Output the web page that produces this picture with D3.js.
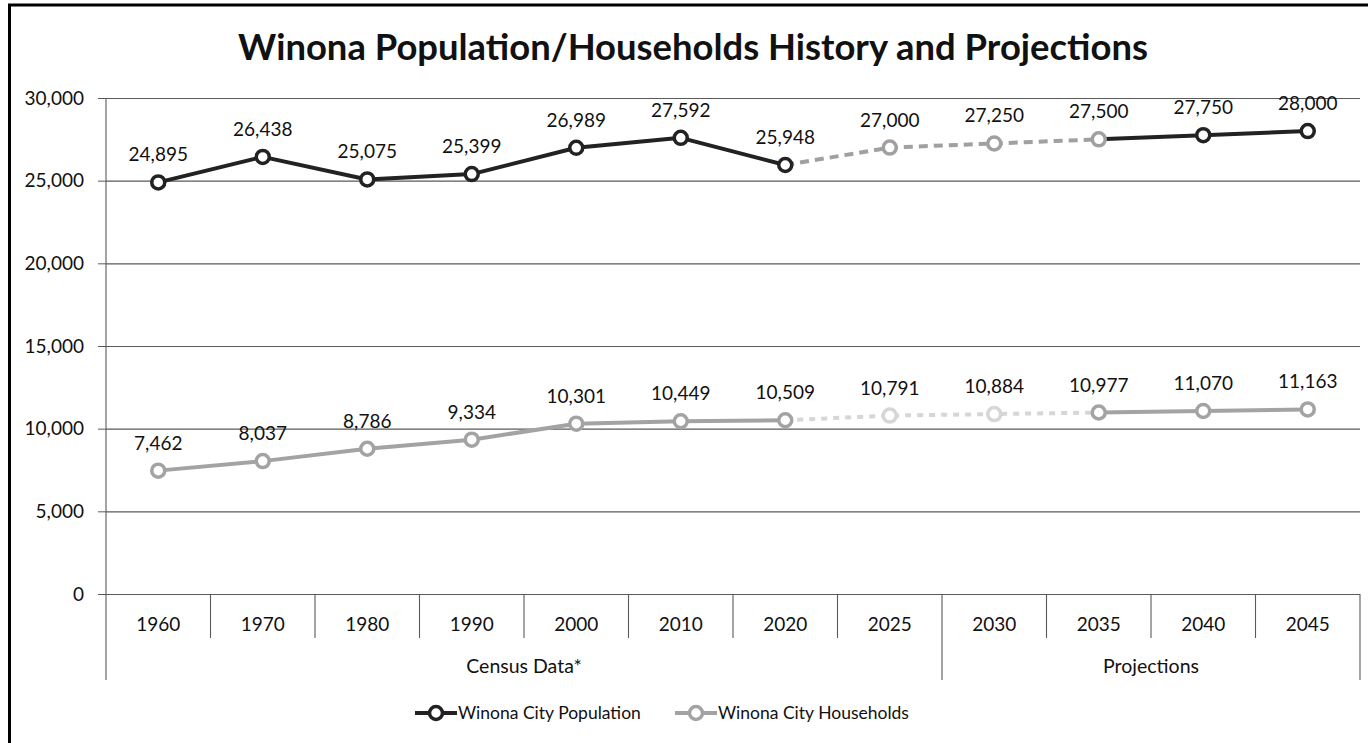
<!DOCTYPE html>
<html>
<head>
<meta charset="utf-8">
<script src="https://cdn.jsdelivr.net/npm/d3@7"></script>
<style>
    body { margin: 0; background: #fff; }
    svg { display: block; }
    text { font-family: Lato, "Open Sans", sans-serif; fill: #111; }
</style>
</head>
<body>
<div id="chart"></div>
<script>
//Datos del gráfico
const years = ['1960', '1970', '1980', '1990', '2000', '2010', '2020', '2025', '2030', '2035', '2040', '2045'];
const censusYears = ['1960', '1970', '1980', '1990', '2000', '2010', '2020', '2025'];
const projectionYears = ['2030', '2035', '2040', '2045'];
const population = [24895, 26438, 25075, 25399, 26989, 27592, 25948, 27000, 27250, 27500, 27750, 28000];
const households = [7462, 8037, 8786, 9334, 10301, 10449, 10509, 10791, 10884, 10977, 11070, 11163];
const yTicks = [0, 5000, 10000, 15000, 20000, 25000, 30000];

const TITLE = 'Winona Population/Households History and Projections';

//Colores fijos
const COLOR_POP = '#222222',
COLOR_POP_PROJ = '#a0a0a0',
COLOR_HH = '#a3a3a3',
COLOR_HH_PROJ = '#d6d6d6',
COLOR_GRID = '#5a5a5a';

//Tramo punteado (de 2020 a 2035)
const DASH_FROM = '2020', DASH_TO = '2035';

let series = [
    { name: 'Winona City Population', values: population, color: COLOR_POP, proj: COLOR_POP_PROJ, projMarkers: ['2025', '2030', '2035'], dash: '9,6', legendX: 415 },
    { name: 'Winona City Households', values: households, color: COLOR_HH, proj: COLOR_HH_PROJ, projMarkers: ['2025', '2030'], dash: '6,6', legendX: 675 }
];

let W = 1368, H = 743;
let margin = {top: 98, left: 106, right: 8, bottom: 149};

let svg = d3.select('#chart')
    .append('svg')
        .attr('width', W)
        .attr('height', H);

//Marco exterior
svg.append('rect')
    .attr('x', 9.5).attr('y', 5)
    .attr('width', W + 20).attr('height', H + 20)
    .attr('fill', 'none')
    .attr('stroke', '#000')
    .attr('stroke-width', 3);

let x = d3.scaleBand()
    .domain(years)
    .range([margin.left, W - margin.right])
    .padding(0);

let y = d3.scaleLinear()
    .domain([0, 30000])
    .range([H - margin.bottom, margin.top]);

//Título
let title = svg.append('text')
    .attr('x', 693)
    .attr('y', 60)
    .attr('text-anchor', 'middle')
    .style('font-weight', '700')
    .style('font-size', '34px')
    .text(TITLE);
//Ajuste del ancho del título
let tw = title.node().getComputedTextLength();
title.style('font-size', (34 * 910 / tw) + 'px');

//Rejilla + eje Y
let yAxis = function(g) {
    g.call(d3.axisLeft(y).tickValues(yTicks).tickSize(8).tickPadding(14).tickFormat(d3.format(',')));
    g.call(function(g) { g.select('.domain').remove(); });
    g.selectAll('.tick line').attr('stroke', COLOR_GRID);
    g.selectAll('.tick text').style('font-size', '19px').attr('fill', '#111');
    g.selectAll('.tick').append('line')
        .attr('x1', 0)
        .attr('x2', W - margin.right - margin.left)
        .attr('stroke', COLOR_GRID)
        .attr('stroke-width', 1.1);
}

svg.append('g')
    .attr('transform', 'translate(' + margin.left + ',0)')
    .call(yAxis);

//Eje vertical
svg.append('line')
    .attr('x1', margin.left).attr('x2', margin.left)
    .attr('y1', y(30000)).attr('y2', 680)
    .attr('stroke', COLOR_GRID)
    .attr('stroke-width', 1.1);

//Eje X: años
let xAxis = svg.append('g').attr('class', 'xaxis');

xAxis.selectAll('.year')
    .data(years)
    .enter()
    .append('text')
    .attr('x', function(d) { return x(d) + x.bandwidth() / 2; })
    .attr('y', 631)
    .attr('text-anchor', 'middle')
    .style('font-size', '19px')
    .text(function(d) { return d; });

//Separadores de categorías
let groupEdges = [censusYears[0], projectionYears[0]];
xAxis.selectAll('.sep')
    .data(years.slice(1))
    .enter()
    .append('line')
    .attr('x1', function(d) { return x(d); })
    .attr('x2', function(d) { return x(d); })
    .attr('y1', y(0))
    .attr('y2', function(d) { return groupEdges.indexOf(d) >= 0 ? 680 : 638; })
    .attr('stroke', COLOR_GRID)
    .attr('stroke-width', 1.1);

xAxis.append('line')
    .attr('x1', x.range()[1]).attr('x2', x.range()[1])
    .attr('y1', y(0)).attr('y2', 680)
    .attr('stroke', COLOR_GRID)
    .attr('stroke-width', 1.1);

//Grupos
let groups = [
    { label: 'Census Data*', years: censusYears },
    { label: 'Projections', years: projectionYears }
];

xAxis.selectAll('.group')
    .data(groups)
    .enter()
    .append('text')
    .attr('x', function(d) {
        let a = x(d.years[0]), b = x(d.years[d.years.length - 1]) + x.bandwidth();
        return (a + b) / 2;
    })
    .attr('y', 673)
    .attr('text-anchor', 'middle')
    .style('font-size', '19.5px')
    .text(function(d) { return d.label; });

//Líneas
let pts = function(s) {
    return years.map(function(yr, i) { return { year: yr, value: s.values[i], i: i }; });
}

let line = d3.line()
    .x(function(d) { return x(d.year) + x.bandwidth() / 2; })
    .y(function(d) { return y(d.value); });

let iFrom = years.indexOf(DASH_FROM), iTo = years.indexOf(DASH_TO);

series.forEach(function(s) {
    let p = pts(s);
    let g = svg.append('g').attr('class', 'serie');

    //Tramos sólidos
    [p.slice(0, iFrom + 1), p.slice(iTo)].forEach(function(seg) {
        g.append('path')
            .datum(seg)
            .attr('d', line)
            .attr('fill', 'none')
            .attr('stroke', s.color)
            .attr('stroke-width', 4)
            .attr('stroke-linejoin', 'round');
    });

    //Tramo proyectado (punteado)
    g.append('path')
        .datum(p.slice(iFrom, iTo + 1))
        .attr('d', line)
        .attr('fill', 'none')
        .attr('stroke', s.proj)
        .attr('stroke-width', 4)
        .attr('stroke-dasharray', s.dash);

    //Marcadores
    g.selectAll('circle')
        .data(p)
        .enter()
        .append('circle')
        .attr('cx', function(d) { return x(d.year) + x.bandwidth() / 2; })
        .attr('cy', function(d) { return y(d.value); })
        .attr('r', 6.5)
        .attr('fill', '#fff')
        .attr('stroke', function(d) { return s.projMarkers.indexOf(d.year) >= 0 ? s.proj : s.color; })
        .attr('stroke-width', 3.5);

    //Etiquetas
    g.selectAll('.label')
        .data(p)
        .enter()
        .append('text')
        .attr('x', function(d) { return x(d.year) + x.bandwidth() / 2; })
        .attr('y', function(d) { return y(d.value) - 21; })
        .attr('text-anchor', 'middle')
        .style('font-size', '19px')
        .text(function(d) { return d3.format(',')(d.value); });
});

//Leyenda
let legend = svg.append('g').attr('class', 'legend');

series.forEach(function(s) {
    let lg = legend.append('g').attr('transform', 'translate(' + s.legendX + ',713)');
    lg.append('line')
        .attr('x1', 0).attr('x2', 42)
        .attr('y1', 0).attr('y2', 0)
        .attr('stroke', s.color)
        .attr('stroke-width', 4);
    lg.append('circle')
        .attr('cx', 21).attr('cy', 0)
        .attr('r', 6.5)
        .attr('fill', '#fff')
        .attr('stroke', s.color)
        .attr('stroke-width', 3.5);
    lg.append('text')
        .attr('x', 43)
        .attr('y', 6)
        .style('font-size', '17.5px')
        .text(s.name);
});
</script>
</body>
</html>
